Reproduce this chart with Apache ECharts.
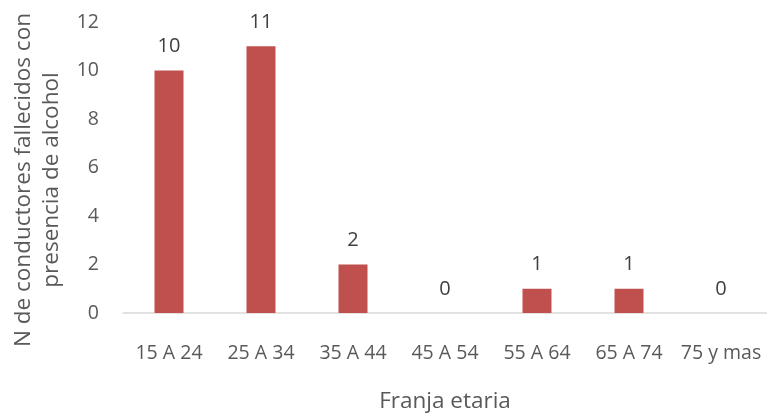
<!DOCTYPE html>
<html>
<head>
<meta charset="utf-8">
<script src="https://cdn.jsdelivr.net/npm/echarts@6/dist/echarts.min.js"></script>
<style>
html,body{margin:0;padding:0;background:#fff;}
#container{width:767px;height:416px;}
</style>
</head>
<body>
<div id="container"></div>
<script>
var franjas = ['15 A 24', '25 A 34', '35 A 44', '45 A 54', '55 A 64', '65 A 74', '75 y mas'];
var fallecidos = [10, 11, 2, 0, 1, 1, 0];
var yTicks = [0, 2, 4, 6, 8, 10, 12];

var fuente = 'Open Sans';
var gris = '#595959';

var myChart = echarts.init(document.getElementById('container'));
var option = {
    animation: false,
    textStyle: { fontFamily: fuente },
    grid: {
        left: 123,
        right: 0,
        top: 22,
        bottom: 103,
        outerBoundsMode: 'none',
        containLabel: false
    },
    xAxis: {
        type: 'category',
        data: franjas,
        name: 'Franja etaria',
        nameLocation: 'middle',
        nameGap: 77,
        nameTextStyle: { fontSize: 22.5, color: gris, fontFamily: fuente, verticalAlign: 'top' },
        axisLine: { lineStyle: { color: '#d9d9d9', width: 1.5 } },
        axisTick: { show: false },
        axisLabel: { fontSize: 19.5, color: gris, margin: 30, interval: 0, hideOverlap: false, fontFamily: fuente }
    },
    yAxis: {
        type: 'value',
        min: yTicks[0],
        max: yTicks[yTicks.length - 1],
        interval: 2,
        name: 'N de conductores fallecidos con\npresencia de alcohol',
        nameLocation: 'middle',
        nameRotate: 90,
        nameGap: 52,
        nameTextStyle: { fontSize: 22.5, color: gris, lineHeight: 28, fontFamily: fuente, padding: [0, 25, 0, 0] },
        axisLine: { show: false },
        axisTick: { show: false },
        splitLine: { show: false },
        axisLabel: { fontSize: 19.5, color: gris, margin: 24, fontFamily: fuente }
    },
    series: [
        {
            type: 'bar',
            data: fallecidos,
            barWidth: 29,
            itemStyle: { color: '#C0504D' },
            label: {
                show: true,
                position: 'top',
                distance: 14,
                fontSize: 20,
                color: '#404040',
                fontFamily: fuente
            }
        }
    ]
};
myChart.setOption(option, true);
</script>
</body>
</html>
